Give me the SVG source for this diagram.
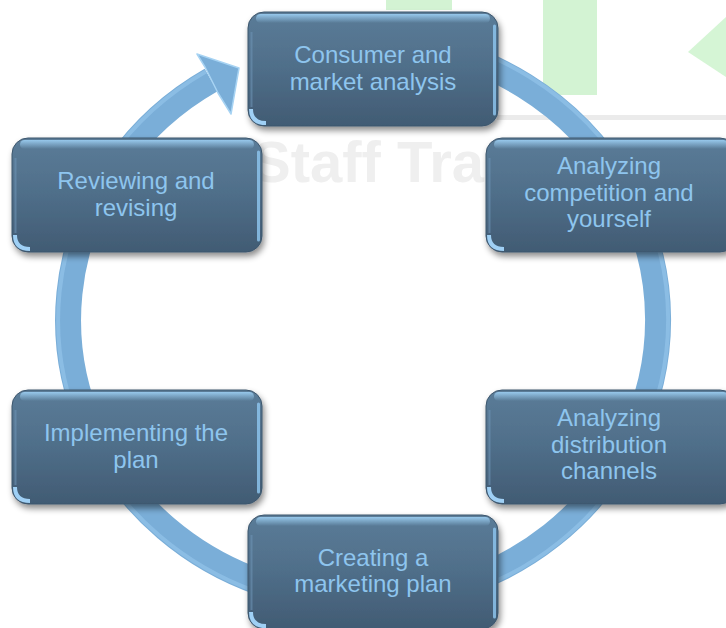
<svg xmlns="http://www.w3.org/2000/svg" width="726" height="628" viewBox="0 0 726 628">
  <style>
    .lbl { font-family: "Liberation Sans", Arial, sans-serif; font-size: 24px; fill: #8ec5ee; text-anchor: middle; }
    .wm { font-family: "Liberation Sans", Arial, sans-serif; font-size: 58px; font-weight: bold; fill: #efefef; }
    .ring { fill: none; stroke: #7aaed8; stroke-width: 26; }
    .ringHi { fill: none; stroke: #96c6ec; stroke-width: 4; opacity: 0.6; }
  </style>
  <defs>
    <linearGradient id="boxFill" x1="0" y1="0" x2="0" y2="1">
      <stop offset="0" stop-color="#5b7c98"/>
      <stop offset="0.5" stop-color="#4f6e89"/>
      <stop offset="1" stop-color="#415b73"/>
    </linearGradient>
    <linearGradient id="topHi" x1="0" y1="0" x2="0" y2="1">
      <stop offset="0" stop-color="#9dd0f4" stop-opacity="0.9"/>
      <stop offset="1" stop-color="#9dd0f4" stop-opacity="0"/>
    </linearGradient>
    <filter id="shadow" x="-10%" y="-10%" width="125%" height="130%">
      <feDropShadow dx="2" dy="4" stdDeviation="3" flood-color="#000" flood-opacity="0.45"/>
    </filter>
    <g id="boxShape">
      <rect x="0" y="0" width="250" height="114" rx="16" fill="url(#boxFill)" stroke="#3c566d" stroke-width="1" filter="url(#shadow)"/>
      <rect x="8" y="2" width="234" height="9" rx="4.5" fill="url(#topHi)"/>
      <path d="M246.5,14 V102" stroke="#8cc3ec" stroke-width="3" stroke-linecap="round" opacity="0.85"/>
      <path d="M3.5,20 V95" stroke="#6d93b4" stroke-width="2" opacity="0.6"/>
      <path d="M3,97 Q3,111 18,111" fill="none" stroke="#9fd0f5" stroke-width="4"/>
    </g>
  </defs>

  <rect width="726" height="628" fill="#ffffff"/>

  <g id="background">
    <rect x="386" y="0" width="66" height="10" fill="#d3f3d3"/>
    <rect x="543" y="0" width="54" height="95" fill="#d3f3d3"/>
    <polygon points="726,17 688,52 726,77" fill="#d5f5d5"/>
    <rect x="497" y="115" width="229" height="5" fill="#ebebeb"/>
    <text class="wm" x="252" y="182">Staff Tra</text>
  </g>

  <g id="connectors">
    <path class="ring" d="M404.1,42.7 A295,280 0 1 1 211.1,80"/>
    <path class="ringHi" d="M405.5,32.8 A305,290 0 1 1 205.9,71.5"/>
    <polygon points="205,67 197,54 239,68 231,114 218,93" fill="#7aaed8" stroke="#a7d3f3" stroke-width="1.5" stroke-linejoin="round"/>
  </g>

  <g id="n1">
    <use href="#boxShape" x="248" y="12"/>
    <text class="lbl" x="373" y="63">Consumer and</text>
    <text class="lbl" x="373" y="90">market analysis</text>
  </g>
  <g id="n2">
    <use href="#boxShape" x="486" y="138"/>
    <text class="lbl" x="609" y="174">Analyzing</text>
    <text class="lbl" x="609" y="201">competition and</text>
    <text class="lbl" x="609" y="227">yourself</text>
  </g>
  <g id="n3">
    <use href="#boxShape" x="486" y="390"/>
    <text class="lbl" x="609" y="426">Analyzing</text>
    <text class="lbl" x="609" y="453">distribution</text>
    <text class="lbl" x="609" y="479">channels</text>
  </g>
  <g id="n4">
    <use href="#boxShape" x="248" y="515"/>
    <text class="lbl" x="373" y="566">Creating a</text>
    <text class="lbl" x="373" y="592">marketing plan</text>
  </g>
  <g id="n5">
    <use href="#boxShape" x="12" y="390"/>
    <text class="lbl" x="136" y="441">Implementing the</text>
    <text class="lbl" x="136" y="468">plan</text>
  </g>
  <g id="n6">
    <use href="#boxShape" x="12" y="138"/>
    <text class="lbl" x="136" y="189">Reviewing and</text>
    <text class="lbl" x="136" y="216">revising</text>
  </g>
</svg>
